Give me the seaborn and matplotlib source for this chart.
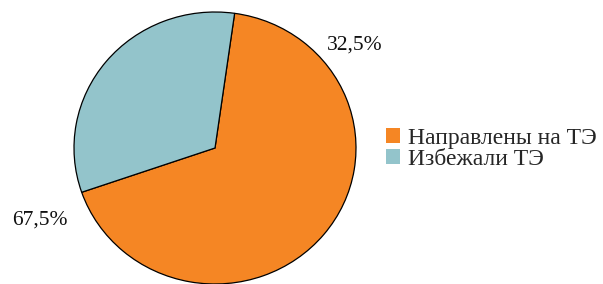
import matplotlib
matplotlib.use("Agg")
import matplotlib.pyplot as plt
import seaborn as sns
from matplotlib.patches import Patch

categories = ["Направлены на ТЭ", "Избежали ТЭ"]
values = [67.5, 32.5]
value_labels = ["67,5%", "32,5%"]
colors = ["#F58624", "#93C4CB"]

sns.set_theme(style="white")
plt.rcParams["font.family"] = ["Liberation Serif", "DejaVu Serif"]

fig = plt.figure(figsize=(6.03, 2.84), dpi=100)
W, H = 603, 284
ax = fig.add_axes([74 / W, 0 / H, 282 / W, 272 / H])
wedges, _ = ax.pie(values, colors=colors, startangle=199, counterclock=True,
                   wedgeprops=dict(edgecolor="black", linewidth=0.9),
                   radius=1.0)
for w in wedges:
    w.set_clip_on(False)
ax.set_aspect("auto")
ax.set_xlim(-1, 1)
ax.set_ylim(-1, 1)
ax.axis("off")

# value labels
fig.text(40 / W, 1 - 220 / H, value_labels[0], ha="center", va="center", fontsize=15.5, color="#111111")
fig.text(355 / W, 1 - 45 / H, value_labels[1], ha="center", va="center", fontsize=15.5, color="#111111")

handles = [Patch(facecolor=c, edgecolor="none") for c in colors]
fig.legend(handles, categories, loc="center left", bbox_to_anchor=(386 / W, 1 - 149 / H),
           frameon=False, fontsize=17, handlelength=0.6, handleheight=0.6,
           handletextpad=0.35, labelspacing=0.0, borderpad=0, borderaxespad=0)

fig.savefig("out.png", dpi=100)
